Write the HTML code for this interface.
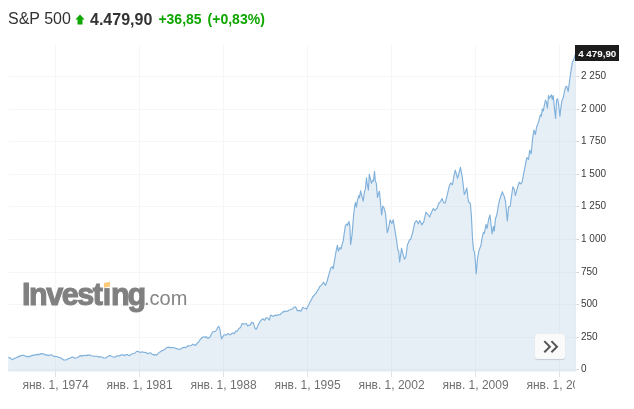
<!DOCTYPE html>
<html><head><meta charset="utf-8"><title>S&amp;P 500</title>
<style>
html,body{margin:0;padding:0;background:#fff;width:634px;height:409px;overflow:hidden;position:relative;font-family:"Liberation Sans",Arial,sans-serif}
.hdr{position:absolute;left:8px;top:6px;height:24px;white-space:nowrap;line-height:24px}
.hdr span{position:absolute;top:0;white-space:nowrap}
.nm{left:0;top:0.8px !important;font-size:16px;color:#333}
.pr{left:82px;top:2px !important;font-size:16px;font-weight:bold;color:#333}
.ch{left:150.4px;top:1px !important;font-size:14px;font-weight:bold;color:#0ea600}
.pc{left:199.6px;top:1px !important;font-size:14px;font-weight:bold;color:#0ea600}
svg{position:absolute;left:0;top:0}
.yl{position:absolute;left:581px;height:12px;line-height:12px;font-size:10px;color:#3a3a3a;white-space:nowrap}
.xclip{position:absolute;left:0;top:375.3px;width:575.3px;height:20px;overflow:hidden}
.xl{position:absolute;top:0;width:100px;text-align:center;font-size:12px;line-height:20px;color:#707070;white-space:nowrap}
.tag{position:absolute;left:575px;top:45px;width:44px;height:16px;background:#1c1c1c;color:#fff;font-size:9.8px;font-weight:bold;line-height:17px;padding-left:0.5px;box-sizing:border-box;text-align:center;white-space:nowrap}
.logo{position:absolute;left:22px;top:277.3px;white-space:nowrap;color:#808080}
.logo b{font-size:30.5px;font-weight:bold;letter-spacing:-1.45px;-webkit-text-stroke:1.1px #808080}
.logo i{font-style:normal;font-size:20px;margin-left:-0.6px;color:#858585}
.btn{position:absolute;left:535px;top:334px;width:30px;height:25px;border-radius:3px;background:#fafafa;box-shadow:0 1px 1px rgba(0,0,0,0.15)}
</style></head><body>
<div class="hdr"><span class="nm">S&amp;P 500</span>
<svg style="position:absolute;left:66.9px;top:8px" width="10" height="11" viewBox="0 0 10 11"><path d="M5,0.4 L9.6,5.6 L7.5,5.6 L7.5,10.5 L2.5,10.5 L2.5,5.6 L0.4,5.6 Z" fill="#0ea600"/></svg>
<span class="pr">4.479,90</span><span class="ch">+36,85</span><span class="pc">(+0,83%)</span></div>
<svg width="634" height="409" viewBox="0 0 634 409">
<defs><clipPath id="fc"><path d="M8,371.5 L8.3,357.3 L9.6,357.9 L10.8,358.4 L12.1,359.6 L13.2,359.3 L14.3,358.2 L15.4,358.2 L16.5,357.6 L17.6,356.8 L18.7,356.8 L19.8,355.8 L20.9,355.8 L22,355.4 L23.1,355.2 L24.2,355.5 L25.4,356.1 L26.5,356.8 L27.6,356.3 L28.7,357 L29.9,356.1 L31.2,355.9 L32.4,355.1 L33.5,355.5 L34.6,354.9 L35.7,354.6 L36.8,355.1 L38,353.9 L39.1,354.7 L40.2,353.9 L41.3,353.6 L42.4,353.9 L43.4,353.8 L44.5,354.2 L45.5,355.1 L46.6,354.7 L47.6,355.3 L48.6,355.3 L49.7,355.3 L50.8,354.9 L51.8,355 L53,355.9 L54.2,356.6 L55.3,356.3 L56.5,356.5 L57.6,356.8 L58.8,357.5 L59.9,357.5 L61.2,358.3 L62.4,359 L63.7,360 L65,360 L66.2,359.9 L67.3,359.3 L68.4,358.5 L69.6,358.5 L70.7,357.8 L71.8,357 L72.9,357.1 L74,357.9 L75.1,358.2 L76.3,357.7 L77.5,357.5 L78.7,356.7 L79.9,355.9 L81.1,355.6 L82.2,356.3 L83.4,355.3 L84.5,355.5 L85.7,355.8 L86.8,355.1 L88,355.4 L89.1,354.9 L90.3,355.3 L91.4,355.7 L92.6,356 L93.7,356 L94.9,356.5 L96,356.3 L97.1,356.2 L98.2,356.8 L99.4,356.8 L100.5,356.9 L101.6,357 L102.6,357.3 L103.5,358 L104.5,358 L105.6,358 L106.8,357 L107.9,356.7 L109.1,355.6 L110.2,355.6 L111.3,356.3 L112.4,356.7 L113.5,357 L114.5,357.3 L115.6,356.9 L116.6,356 L117.7,355.9 L118.7,355.8 L119.7,355.8 L120.7,354.8 L121.6,355.1 L122.6,354.9 L123.5,355 L124.5,355.8 L125.4,355 L126.4,354.5 L127.3,354.6 L128.5,355.4 L129.7,355.6 L130.8,354.6 L131.8,354.1 L132.8,353.7 L133.9,353.2 L135.2,353 L136.4,351.5 L137.7,351.3 L138.6,351.7 L139.6,352.2 L140.5,352.1 L141.5,352.3 L142.4,351.7 L143.4,352.3 L144.3,352.5 L145.3,352.3 L146.4,352.8 L147.6,353.7 L148.8,353.2 L150,352.8 L151.1,353.2 L152.2,354.4 L153.3,354.6 L154.4,355.3 L155.5,354.6 L156.6,355.2 L157.9,353.7 L159.1,352.6 L160.4,351.8 L161.7,350.8 L162.9,350.4 L164.2,349.7 L165.4,348.7 L166.6,347.6 L167.7,347.4 L168.9,347.1 L170,347.7 L171.2,347.6 L172.3,347.6 L173.5,347.8 L174.7,347.7 L175.9,348.6 L177.1,348.6 L178,349.1 L179,349.2 L179.9,349.5 L181.1,348.7 L182.3,347.6 L183.4,347.8 L184.5,347.2 L185.6,347.7 L186.8,347.1 L188,345.6 L189.2,346 L190.3,345.7 L191.5,345.3 L192.7,344.1 L193.7,344.9 L194.6,344.8 L195.6,345.4 L196.5,344.2 L197.5,342.8 L198.4,342.2 L199.3,341.1 L200.3,339.3 L201.2,338.5 L202.2,337.5 L203.1,337 L204.1,336.8 L205.5,337.5 L206.4,336.6 L207.9,338.5 L209.1,337.4 L210.2,337 L211.1,334.7 L212.1,332.8 L213.1,331.7 L214,331.5 L215.4,331.5 L216.8,329.5 L217.7,327.4 L218.5,326.4 L219.7,328 L220.6,334.2 L221.6,338.9 L222.5,337.1 L223.5,335.7 L224.4,334.7 L225.4,334.7 L226.3,335.1 L227.5,333.9 L228.7,333.7 L229.6,334.6 L230.4,334.7 L231.4,334 L232.3,333 L233.3,333 L234.3,333.7 L235.7,331.1 L237.2,331.3 L238.2,329.5 L239.2,328.3 L240.6,327.4 L242.1,323.5 L243.1,323.7 L244.1,324.2 L245.2,323.7 L246.3,323.5 L247.7,325.9 L248.9,325.1 L250.2,325.2 L251.6,322.3 L252.4,322.9 L253.3,322.7 L254.8,327.9 L256.1,329.3 L257.1,327.6 L258.2,324.9 L259.4,322.7 L260.7,320.5 L261.9,319.6 L263.1,318.8 L264.6,320.3 L266,317.9 L267,317.8 L268,318.6 L269.5,320 L270.4,315.4 L271.4,315.3 L272.4,315.9 L273.4,316.4 L274.4,315.5 L275.3,315.1 L276.8,315.6 L278.3,314.5 L279.2,315 L280.2,314.7 L281.2,313.3 L282.2,312.7 L283.1,311.6 L284.1,312 L285,310.9 L286.2,311.2 L287.4,311.4 L288.8,310.2 L290.1,309.8 L291.5,309.3 L292.8,308.7 L294.1,307.2 L295.5,306.8 L296.4,308.6 L297.2,310.4 L298.4,310.9 L299.5,310.4 L300.9,311.1 L301.8,309.6 L302.6,307.4 L303.8,308 L304.9,308.2 L305.8,308.4 L306.6,309.1 L307.8,306.6 L308.9,304.4 L309.9,302 L310.9,300.6 L312,298.4 L313,296.3 L314.1,295.5 L315.2,293.9 L316.3,293 L317.4,290.6 L318.6,289.1 L319.7,286.6 L320.7,286 L321.7,284.8 L322.7,283.6 L323.7,282.2 L324.6,284.1 L325.5,285.3 L326.4,283 L327.4,280.2 L328.5,275.9 L329.6,272.2 L330.7,268.1 L332.2,266.6 L333.2,268.8 L334.1,262.8 L335.1,257.1 L336.2,250.7 L337.4,245.3 L338.4,251.2 L340,247.5 L341,249 L342.1,244.4 L343.2,240.9 L344.3,232.9 L345.4,225.4 L346.9,224 L347.6,225.4 L348.8,221.5 L349.9,226.2 L350.6,244.6 L352.1,234.3 L353.7,214 L354.7,206 L355.5,202.3 L356.4,207.2 L357.6,199.9 L358.8,195.6 L359.5,197.8 L360.6,190.7 L361.9,196.2 L363.2,201.1 L364.4,191.9 L365.3,189.5 L366.5,177.9 L367.1,183.4 L368.4,190.1 L369.3,174.2 L370.2,177.9 L371.4,183.4 L372.6,180.3 L373.5,180.9 L374.5,171.4 L375.3,180.9 L376.3,183.4 L377.5,197.4 L378.4,194.1 L379.4,191.3 L380.4,201.7 L381.6,215 L382.8,206 L384,207.8 L385.5,213.3 L386.4,223.2 L387.3,232.6 L388.6,228 L390.1,219.8 L391,222.1 L391.9,223.4 L393.2,219.8 L394.7,229 L395.6,234.4 L396.5,240 L397.8,250 L398.7,251 L399.6,262 L400.6,255.6 L401.5,248.2 L402.9,253.7 L404.4,259.2 L405.7,257.4 L406.6,251.5 L407.5,244.5 L408.4,242.8 L409.4,240 L410.8,239 L411.8,235.7 L412.7,232.6 L413.8,227.2 L414.9,222.5 L415.8,221.3 L416.7,220.7 L418.3,223.8 L419.9,220.4 L420.9,222.4 L421.8,225 L422.7,223.3 L423.6,222.3 L424.8,217.4 L426,212.2 L426.9,213.5 L427.8,214 L428.8,215.8 L429.7,216.8 L430.6,214.5 L431.5,212.2 L432.4,210.5 L433.3,208.5 L434.2,209.8 L435.1,210.4 L436.1,209 L437,208.5 L437.9,205.9 L438.8,203 L439.7,202.6 L440.6,201.2 L442.1,198.5 L443,201.1 L443.8,203 L445.2,203 L446.1,199.6 L447.1,195.7 L448,191.6 L448.9,187.5 L449.8,184.8 L450.7,182.9 L451.6,184.1 L452.5,184.7 L453.8,176.5 L455.3,170.1 L456.4,174 L457.5,178.3 L458.5,175 L459.4,171.5 L460.4,167.3 L461.4,172.2 L462.3,177.4 L463.3,185.8 L464.3,194.5 L465.6,191.7 L466.8,188 L467.6,195.2 L468.5,202 L469.4,202.3 L470.3,203.3 L471.4,215.8 L472.4,236.7 L473.5,250.2 L474.5,251.7 L475.4,262.3 L476.2,273.8 L477.6,257.5 L479.1,250.2 L480,247.7 L480.8,246 L481.8,239.8 L483.3,232.5 L484.3,233.5 L485.3,228.3 L486,224.4 L487.1,228.5 L488.7,219 L490,215 L491,224.4 L492.1,233.8 L493.4,226.4 L494.3,231.1 L495.4,219 L496.8,215 L498.1,206.9 L499.5,200.2 L500.8,196.2 L502.4,191.8 L503.3,194.4 L504.2,196.2 L505.5,201.5 L506.5,212.3 L507.3,221 L508.6,206.9 L510.2,206.2 L511.6,195.5 L512.9,186.7 L514.3,189.4 L515.3,195.5 L516.4,191.9 L517.5,187.7 L518.4,184.6 L519.3,182.2 L520.8,184 L522.1,182.2 L523,177.5 L523.9,172.1 L524.8,168.1 L525.7,163 L527,157.5 L528.5,159.3 L529.7,150.2 L531.2,153.8 L532.5,139.2 L534,130.1 L535.4,134.5 L536.7,126.4 L537.7,124.4 L539,120.4 L540.4,114.7 L541.3,116.3 L542.4,108.9 L543.3,111 L544.4,104.9 L545.5,100.2 L546.4,102.2 L547.4,108.3 L548.5,95.5 L549.4,98.2 L550.5,96.2 L551.4,94.8 L552.2,99.5 L553.2,95.5 L554.5,108.9 L555.6,118.4 L556.5,100.2 L557.6,98.8 L558.6,104.2 L559.9,116.3 L561,106.9 L561.9,100.9 L563.3,97.5 L564.6,90.8 L565.6,87 L566.8,86.3 L568.2,91.5 L569.7,79.7 L571.2,69.4 L572.4,62.1 L573.4,60.6 L574.6,56.9 L575.1,54.7 L575.8,54.7 L575.8,371.5 Z"/></clipPath></defs>
<g stroke="#f6f6f6" stroke-width="1"><line x1="9" y1="76.5" x2="575.8" y2="76.5"/><line x1="9" y1="109.5" x2="575.8" y2="109.5"/><line x1="9" y1="141.5" x2="575.8" y2="141.5"/><line x1="9" y1="174.5" x2="575.8" y2="174.5"/><line x1="9" y1="206.5" x2="575.8" y2="206.5"/><line x1="9" y1="239.5" x2="575.8" y2="239.5"/><line x1="9" y1="272.5" x2="575.8" y2="272.5"/><line x1="9" y1="304.5" x2="575.8" y2="304.5"/><line x1="9" y1="337.5" x2="575.8" y2="337.5"/><line x1="9" y1="369.5" x2="575.8" y2="369.5"/><line x1="55.5" y1="45" x2="55.5" y2="371.5"/><line x1="139.5" y1="45" x2="139.5" y2="371.5"/><line x1="223.5" y1="45" x2="223.5" y2="371.5"/><line x1="307.5" y1="45" x2="307.5" y2="371.5"/><line x1="391.5" y1="45" x2="391.5" y2="371.5"/><line x1="475.5" y1="45" x2="475.5" y2="371.5"/><line x1="559.5" y1="45" x2="559.5" y2="371.5"/></g>
<path d="M8,371.5 L8.3,357.3 L9.6,357.9 L10.8,358.4 L12.1,359.6 L13.2,359.3 L14.3,358.2 L15.4,358.2 L16.5,357.6 L17.6,356.8 L18.7,356.8 L19.8,355.8 L20.9,355.8 L22,355.4 L23.1,355.2 L24.2,355.5 L25.4,356.1 L26.5,356.8 L27.6,356.3 L28.7,357 L29.9,356.1 L31.2,355.9 L32.4,355.1 L33.5,355.5 L34.6,354.9 L35.7,354.6 L36.8,355.1 L38,353.9 L39.1,354.7 L40.2,353.9 L41.3,353.6 L42.4,353.9 L43.4,353.8 L44.5,354.2 L45.5,355.1 L46.6,354.7 L47.6,355.3 L48.6,355.3 L49.7,355.3 L50.8,354.9 L51.8,355 L53,355.9 L54.2,356.6 L55.3,356.3 L56.5,356.5 L57.6,356.8 L58.8,357.5 L59.9,357.5 L61.2,358.3 L62.4,359 L63.7,360 L65,360 L66.2,359.9 L67.3,359.3 L68.4,358.5 L69.6,358.5 L70.7,357.8 L71.8,357 L72.9,357.1 L74,357.9 L75.1,358.2 L76.3,357.7 L77.5,357.5 L78.7,356.7 L79.9,355.9 L81.1,355.6 L82.2,356.3 L83.4,355.3 L84.5,355.5 L85.7,355.8 L86.8,355.1 L88,355.4 L89.1,354.9 L90.3,355.3 L91.4,355.7 L92.6,356 L93.7,356 L94.9,356.5 L96,356.3 L97.1,356.2 L98.2,356.8 L99.4,356.8 L100.5,356.9 L101.6,357 L102.6,357.3 L103.5,358 L104.5,358 L105.6,358 L106.8,357 L107.9,356.7 L109.1,355.6 L110.2,355.6 L111.3,356.3 L112.4,356.7 L113.5,357 L114.5,357.3 L115.6,356.9 L116.6,356 L117.7,355.9 L118.7,355.8 L119.7,355.8 L120.7,354.8 L121.6,355.1 L122.6,354.9 L123.5,355 L124.5,355.8 L125.4,355 L126.4,354.5 L127.3,354.6 L128.5,355.4 L129.7,355.6 L130.8,354.6 L131.8,354.1 L132.8,353.7 L133.9,353.2 L135.2,353 L136.4,351.5 L137.7,351.3 L138.6,351.7 L139.6,352.2 L140.5,352.1 L141.5,352.3 L142.4,351.7 L143.4,352.3 L144.3,352.5 L145.3,352.3 L146.4,352.8 L147.6,353.7 L148.8,353.2 L150,352.8 L151.1,353.2 L152.2,354.4 L153.3,354.6 L154.4,355.3 L155.5,354.6 L156.6,355.2 L157.9,353.7 L159.1,352.6 L160.4,351.8 L161.7,350.8 L162.9,350.4 L164.2,349.7 L165.4,348.7 L166.6,347.6 L167.7,347.4 L168.9,347.1 L170,347.7 L171.2,347.6 L172.3,347.6 L173.5,347.8 L174.7,347.7 L175.9,348.6 L177.1,348.6 L178,349.1 L179,349.2 L179.9,349.5 L181.1,348.7 L182.3,347.6 L183.4,347.8 L184.5,347.2 L185.6,347.7 L186.8,347.1 L188,345.6 L189.2,346 L190.3,345.7 L191.5,345.3 L192.7,344.1 L193.7,344.9 L194.6,344.8 L195.6,345.4 L196.5,344.2 L197.5,342.8 L198.4,342.2 L199.3,341.1 L200.3,339.3 L201.2,338.5 L202.2,337.5 L203.1,337 L204.1,336.8 L205.5,337.5 L206.4,336.6 L207.9,338.5 L209.1,337.4 L210.2,337 L211.1,334.7 L212.1,332.8 L213.1,331.7 L214,331.5 L215.4,331.5 L216.8,329.5 L217.7,327.4 L218.5,326.4 L219.7,328 L220.6,334.2 L221.6,338.9 L222.5,337.1 L223.5,335.7 L224.4,334.7 L225.4,334.7 L226.3,335.1 L227.5,333.9 L228.7,333.7 L229.6,334.6 L230.4,334.7 L231.4,334 L232.3,333 L233.3,333 L234.3,333.7 L235.7,331.1 L237.2,331.3 L238.2,329.5 L239.2,328.3 L240.6,327.4 L242.1,323.5 L243.1,323.7 L244.1,324.2 L245.2,323.7 L246.3,323.5 L247.7,325.9 L248.9,325.1 L250.2,325.2 L251.6,322.3 L252.4,322.9 L253.3,322.7 L254.8,327.9 L256.1,329.3 L257.1,327.6 L258.2,324.9 L259.4,322.7 L260.7,320.5 L261.9,319.6 L263.1,318.8 L264.6,320.3 L266,317.9 L267,317.8 L268,318.6 L269.5,320 L270.4,315.4 L271.4,315.3 L272.4,315.9 L273.4,316.4 L274.4,315.5 L275.3,315.1 L276.8,315.6 L278.3,314.5 L279.2,315 L280.2,314.7 L281.2,313.3 L282.2,312.7 L283.1,311.6 L284.1,312 L285,310.9 L286.2,311.2 L287.4,311.4 L288.8,310.2 L290.1,309.8 L291.5,309.3 L292.8,308.7 L294.1,307.2 L295.5,306.8 L296.4,308.6 L297.2,310.4 L298.4,310.9 L299.5,310.4 L300.9,311.1 L301.8,309.6 L302.6,307.4 L303.8,308 L304.9,308.2 L305.8,308.4 L306.6,309.1 L307.8,306.6 L308.9,304.4 L309.9,302 L310.9,300.6 L312,298.4 L313,296.3 L314.1,295.5 L315.2,293.9 L316.3,293 L317.4,290.6 L318.6,289.1 L319.7,286.6 L320.7,286 L321.7,284.8 L322.7,283.6 L323.7,282.2 L324.6,284.1 L325.5,285.3 L326.4,283 L327.4,280.2 L328.5,275.9 L329.6,272.2 L330.7,268.1 L332.2,266.6 L333.2,268.8 L334.1,262.8 L335.1,257.1 L336.2,250.7 L337.4,245.3 L338.4,251.2 L340,247.5 L341,249 L342.1,244.4 L343.2,240.9 L344.3,232.9 L345.4,225.4 L346.9,224 L347.6,225.4 L348.8,221.5 L349.9,226.2 L350.6,244.6 L352.1,234.3 L353.7,214 L354.7,206 L355.5,202.3 L356.4,207.2 L357.6,199.9 L358.8,195.6 L359.5,197.8 L360.6,190.7 L361.9,196.2 L363.2,201.1 L364.4,191.9 L365.3,189.5 L366.5,177.9 L367.1,183.4 L368.4,190.1 L369.3,174.2 L370.2,177.9 L371.4,183.4 L372.6,180.3 L373.5,180.9 L374.5,171.4 L375.3,180.9 L376.3,183.4 L377.5,197.4 L378.4,194.1 L379.4,191.3 L380.4,201.7 L381.6,215 L382.8,206 L384,207.8 L385.5,213.3 L386.4,223.2 L387.3,232.6 L388.6,228 L390.1,219.8 L391,222.1 L391.9,223.4 L393.2,219.8 L394.7,229 L395.6,234.4 L396.5,240 L397.8,250 L398.7,251 L399.6,262 L400.6,255.6 L401.5,248.2 L402.9,253.7 L404.4,259.2 L405.7,257.4 L406.6,251.5 L407.5,244.5 L408.4,242.8 L409.4,240 L410.8,239 L411.8,235.7 L412.7,232.6 L413.8,227.2 L414.9,222.5 L415.8,221.3 L416.7,220.7 L418.3,223.8 L419.9,220.4 L420.9,222.4 L421.8,225 L422.7,223.3 L423.6,222.3 L424.8,217.4 L426,212.2 L426.9,213.5 L427.8,214 L428.8,215.8 L429.7,216.8 L430.6,214.5 L431.5,212.2 L432.4,210.5 L433.3,208.5 L434.2,209.8 L435.1,210.4 L436.1,209 L437,208.5 L437.9,205.9 L438.8,203 L439.7,202.6 L440.6,201.2 L442.1,198.5 L443,201.1 L443.8,203 L445.2,203 L446.1,199.6 L447.1,195.7 L448,191.6 L448.9,187.5 L449.8,184.8 L450.7,182.9 L451.6,184.1 L452.5,184.7 L453.8,176.5 L455.3,170.1 L456.4,174 L457.5,178.3 L458.5,175 L459.4,171.5 L460.4,167.3 L461.4,172.2 L462.3,177.4 L463.3,185.8 L464.3,194.5 L465.6,191.7 L466.8,188 L467.6,195.2 L468.5,202 L469.4,202.3 L470.3,203.3 L471.4,215.8 L472.4,236.7 L473.5,250.2 L474.5,251.7 L475.4,262.3 L476.2,273.8 L477.6,257.5 L479.1,250.2 L480,247.7 L480.8,246 L481.8,239.8 L483.3,232.5 L484.3,233.5 L485.3,228.3 L486,224.4 L487.1,228.5 L488.7,219 L490,215 L491,224.4 L492.1,233.8 L493.4,226.4 L494.3,231.1 L495.4,219 L496.8,215 L498.1,206.9 L499.5,200.2 L500.8,196.2 L502.4,191.8 L503.3,194.4 L504.2,196.2 L505.5,201.5 L506.5,212.3 L507.3,221 L508.6,206.9 L510.2,206.2 L511.6,195.5 L512.9,186.7 L514.3,189.4 L515.3,195.5 L516.4,191.9 L517.5,187.7 L518.4,184.6 L519.3,182.2 L520.8,184 L522.1,182.2 L523,177.5 L523.9,172.1 L524.8,168.1 L525.7,163 L527,157.5 L528.5,159.3 L529.7,150.2 L531.2,153.8 L532.5,139.2 L534,130.1 L535.4,134.5 L536.7,126.4 L537.7,124.4 L539,120.4 L540.4,114.7 L541.3,116.3 L542.4,108.9 L543.3,111 L544.4,104.9 L545.5,100.2 L546.4,102.2 L547.4,108.3 L548.5,95.5 L549.4,98.2 L550.5,96.2 L551.4,94.8 L552.2,99.5 L553.2,95.5 L554.5,108.9 L555.6,118.4 L556.5,100.2 L557.6,98.8 L558.6,104.2 L559.9,116.3 L561,106.9 L561.9,100.9 L563.3,97.5 L564.6,90.8 L565.6,87 L566.8,86.3 L568.2,91.5 L569.7,79.7 L571.2,69.4 L572.4,62.1 L573.4,60.6 L574.6,56.9 L575.1,54.7 L575.8,54.7 L575.8,371.5 Z" fill="#e6eef6"/>
<g stroke="rgba(40,60,90,0.028)" stroke-width="1" clip-path="url(#fc)"><line x1="9" y1="76.5" x2="575.8" y2="76.5"/><line x1="9" y1="109.5" x2="575.8" y2="109.5"/><line x1="9" y1="141.5" x2="575.8" y2="141.5"/><line x1="9" y1="174.5" x2="575.8" y2="174.5"/><line x1="9" y1="206.5" x2="575.8" y2="206.5"/><line x1="9" y1="239.5" x2="575.8" y2="239.5"/><line x1="9" y1="272.5" x2="575.8" y2="272.5"/><line x1="9" y1="304.5" x2="575.8" y2="304.5"/><line x1="9" y1="337.5" x2="575.8" y2="337.5"/><line x1="9" y1="369.5" x2="575.8" y2="369.5"/><line x1="55.5" y1="45" x2="55.5" y2="371.5"/><line x1="139.5" y1="45" x2="139.5" y2="371.5"/><line x1="223.5" y1="45" x2="223.5" y2="371.5"/><line x1="307.5" y1="45" x2="307.5" y2="371.5"/><line x1="391.5" y1="45" x2="391.5" y2="371.5"/><line x1="475.5" y1="45" x2="475.5" y2="371.5"/><line x1="559.5" y1="45" x2="559.5" y2="371.5"/></g>
<g stroke="rgba(40,60,90,0.045)" stroke-width="1" clip-path="url(#fc)"><line x1="575.3" y1="40" x2="575.3" y2="372"/><line x1="8" y1="371.2" x2="576" y2="371.2"/></g>
<path d="M8.3,357.3 L9.6,357.9 L10.8,358.4 L12.1,359.6 L13.2,359.3 L14.3,358.2 L15.4,358.2 L16.5,357.6 L17.6,356.8 L18.7,356.8 L19.8,355.8 L20.9,355.8 L22,355.4 L23.1,355.2 L24.2,355.5 L25.4,356.1 L26.5,356.8 L27.6,356.3 L28.7,357 L29.9,356.1 L31.2,355.9 L32.4,355.1 L33.5,355.5 L34.6,354.9 L35.7,354.6 L36.8,355.1 L38,353.9 L39.1,354.7 L40.2,353.9 L41.3,353.6 L42.4,353.9 L43.4,353.8 L44.5,354.2 L45.5,355.1 L46.6,354.7 L47.6,355.3 L48.6,355.3 L49.7,355.3 L50.8,354.9 L51.8,355 L53,355.9 L54.2,356.6 L55.3,356.3 L56.5,356.5 L57.6,356.8 L58.8,357.5 L59.9,357.5 L61.2,358.3 L62.4,359 L63.7,360 L65,360 L66.2,359.9 L67.3,359.3 L68.4,358.5 L69.6,358.5 L70.7,357.8 L71.8,357 L72.9,357.1 L74,357.9 L75.1,358.2 L76.3,357.7 L77.5,357.5 L78.7,356.7 L79.9,355.9 L81.1,355.6 L82.2,356.3 L83.4,355.3 L84.5,355.5 L85.7,355.8 L86.8,355.1 L88,355.4 L89.1,354.9 L90.3,355.3 L91.4,355.7 L92.6,356 L93.7,356 L94.9,356.5 L96,356.3 L97.1,356.2 L98.2,356.8 L99.4,356.8 L100.5,356.9 L101.6,357 L102.6,357.3 L103.5,358 L104.5,358 L105.6,358 L106.8,357 L107.9,356.7 L109.1,355.6 L110.2,355.6 L111.3,356.3 L112.4,356.7 L113.5,357 L114.5,357.3 L115.6,356.9 L116.6,356 L117.7,355.9 L118.7,355.8 L119.7,355.8 L120.7,354.8 L121.6,355.1 L122.6,354.9 L123.5,355 L124.5,355.8 L125.4,355 L126.4,354.5 L127.3,354.6 L128.5,355.4 L129.7,355.6 L130.8,354.6 L131.8,354.1 L132.8,353.7 L133.9,353.2 L135.2,353 L136.4,351.5 L137.7,351.3 L138.6,351.7 L139.6,352.2 L140.5,352.1 L141.5,352.3 L142.4,351.7 L143.4,352.3 L144.3,352.5 L145.3,352.3 L146.4,352.8 L147.6,353.7 L148.8,353.2 L150,352.8 L151.1,353.2 L152.2,354.4 L153.3,354.6 L154.4,355.3 L155.5,354.6 L156.6,355.2 L157.9,353.7 L159.1,352.6 L160.4,351.8 L161.7,350.8 L162.9,350.4 L164.2,349.7 L165.4,348.7 L166.6,347.6 L167.7,347.4 L168.9,347.1 L170,347.7 L171.2,347.6 L172.3,347.6 L173.5,347.8 L174.7,347.7 L175.9,348.6 L177.1,348.6 L178,349.1 L179,349.2 L179.9,349.5 L181.1,348.7 L182.3,347.6 L183.4,347.8 L184.5,347.2 L185.6,347.7 L186.8,347.1 L188,345.6 L189.2,346 L190.3,345.7 L191.5,345.3 L192.7,344.1 L193.7,344.9 L194.6,344.8 L195.6,345.4 L196.5,344.2 L197.5,342.8 L198.4,342.2 L199.3,341.1 L200.3,339.3 L201.2,338.5 L202.2,337.5 L203.1,337 L204.1,336.8 L205.5,337.5 L206.4,336.6 L207.9,338.5 L209.1,337.4 L210.2,337 L211.1,334.7 L212.1,332.8 L213.1,331.7 L214,331.5 L215.4,331.5 L216.8,329.5 L217.7,327.4 L218.5,326.4 L219.7,328 L220.6,334.2 L221.6,338.9 L222.5,337.1 L223.5,335.7 L224.4,334.7 L225.4,334.7 L226.3,335.1 L227.5,333.9 L228.7,333.7 L229.6,334.6 L230.4,334.7 L231.4,334 L232.3,333 L233.3,333 L234.3,333.7 L235.7,331.1 L237.2,331.3 L238.2,329.5 L239.2,328.3 L240.6,327.4 L242.1,323.5 L243.1,323.7 L244.1,324.2 L245.2,323.7 L246.3,323.5 L247.7,325.9 L248.9,325.1 L250.2,325.2 L251.6,322.3 L252.4,322.9 L253.3,322.7 L254.8,327.9 L256.1,329.3 L257.1,327.6 L258.2,324.9 L259.4,322.7 L260.7,320.5 L261.9,319.6 L263.1,318.8 L264.6,320.3 L266,317.9 L267,317.8 L268,318.6 L269.5,320 L270.4,315.4 L271.4,315.3 L272.4,315.9 L273.4,316.4 L274.4,315.5 L275.3,315.1 L276.8,315.6 L278.3,314.5 L279.2,315 L280.2,314.7 L281.2,313.3 L282.2,312.7 L283.1,311.6 L284.1,312 L285,310.9 L286.2,311.2 L287.4,311.4 L288.8,310.2 L290.1,309.8 L291.5,309.3 L292.8,308.7 L294.1,307.2 L295.5,306.8 L296.4,308.6 L297.2,310.4 L298.4,310.9 L299.5,310.4 L300.9,311.1 L301.8,309.6 L302.6,307.4 L303.8,308 L304.9,308.2 L305.8,308.4 L306.6,309.1 L307.8,306.6 L308.9,304.4 L309.9,302 L310.9,300.6 L312,298.4 L313,296.3 L314.1,295.5 L315.2,293.9 L316.3,293 L317.4,290.6 L318.6,289.1 L319.7,286.6 L320.7,286 L321.7,284.8 L322.7,283.6 L323.7,282.2 L324.6,284.1 L325.5,285.3 L326.4,283 L327.4,280.2 L328.5,275.9 L329.6,272.2 L330.7,268.1 L332.2,266.6 L333.2,268.8 L334.1,262.8 L335.1,257.1 L336.2,250.7 L337.4,245.3 L338.4,251.2 L340,247.5 L341,249 L342.1,244.4 L343.2,240.9 L344.3,232.9 L345.4,225.4 L346.9,224 L347.6,225.4 L348.8,221.5 L349.9,226.2 L350.6,244.6 L352.1,234.3 L353.7,214 L354.7,206 L355.5,202.3 L356.4,207.2 L357.6,199.9 L358.8,195.6 L359.5,197.8 L360.6,190.7 L361.9,196.2 L363.2,201.1 L364.4,191.9 L365.3,189.5 L366.5,177.9 L367.1,183.4 L368.4,190.1 L369.3,174.2 L370.2,177.9 L371.4,183.4 L372.6,180.3 L373.5,180.9 L374.5,171.4 L375.3,180.9 L376.3,183.4 L377.5,197.4 L378.4,194.1 L379.4,191.3 L380.4,201.7 L381.6,215 L382.8,206 L384,207.8 L385.5,213.3 L386.4,223.2 L387.3,232.6 L388.6,228 L390.1,219.8 L391,222.1 L391.9,223.4 L393.2,219.8 L394.7,229 L395.6,234.4 L396.5,240 L397.8,250 L398.7,251 L399.6,262 L400.6,255.6 L401.5,248.2 L402.9,253.7 L404.4,259.2 L405.7,257.4 L406.6,251.5 L407.5,244.5 L408.4,242.8 L409.4,240 L410.8,239 L411.8,235.7 L412.7,232.6 L413.8,227.2 L414.9,222.5 L415.8,221.3 L416.7,220.7 L418.3,223.8 L419.9,220.4 L420.9,222.4 L421.8,225 L422.7,223.3 L423.6,222.3 L424.8,217.4 L426,212.2 L426.9,213.5 L427.8,214 L428.8,215.8 L429.7,216.8 L430.6,214.5 L431.5,212.2 L432.4,210.5 L433.3,208.5 L434.2,209.8 L435.1,210.4 L436.1,209 L437,208.5 L437.9,205.9 L438.8,203 L439.7,202.6 L440.6,201.2 L442.1,198.5 L443,201.1 L443.8,203 L445.2,203 L446.1,199.6 L447.1,195.7 L448,191.6 L448.9,187.5 L449.8,184.8 L450.7,182.9 L451.6,184.1 L452.5,184.7 L453.8,176.5 L455.3,170.1 L456.4,174 L457.5,178.3 L458.5,175 L459.4,171.5 L460.4,167.3 L461.4,172.2 L462.3,177.4 L463.3,185.8 L464.3,194.5 L465.6,191.7 L466.8,188 L467.6,195.2 L468.5,202 L469.4,202.3 L470.3,203.3 L471.4,215.8 L472.4,236.7 L473.5,250.2 L474.5,251.7 L475.4,262.3 L476.2,273.8 L477.6,257.5 L479.1,250.2 L480,247.7 L480.8,246 L481.8,239.8 L483.3,232.5 L484.3,233.5 L485.3,228.3 L486,224.4 L487.1,228.5 L488.7,219 L490,215 L491,224.4 L492.1,233.8 L493.4,226.4 L494.3,231.1 L495.4,219 L496.8,215 L498.1,206.9 L499.5,200.2 L500.8,196.2 L502.4,191.8 L503.3,194.4 L504.2,196.2 L505.5,201.5 L506.5,212.3 L507.3,221 L508.6,206.9 L510.2,206.2 L511.6,195.5 L512.9,186.7 L514.3,189.4 L515.3,195.5 L516.4,191.9 L517.5,187.7 L518.4,184.6 L519.3,182.2 L520.8,184 L522.1,182.2 L523,177.5 L523.9,172.1 L524.8,168.1 L525.7,163 L527,157.5 L528.5,159.3 L529.7,150.2 L531.2,153.8 L532.5,139.2 L534,130.1 L535.4,134.5 L536.7,126.4 L537.7,124.4 L539,120.4 L540.4,114.7 L541.3,116.3 L542.4,108.9 L543.3,111 L544.4,104.9 L545.5,100.2 L546.4,102.2 L547.4,108.3 L548.5,95.5 L549.4,98.2 L550.5,96.2 L551.4,94.8 L552.2,99.5 L553.2,95.5 L554.5,108.9 L555.6,118.4 L556.5,100.2 L557.6,98.8 L558.6,104.2 L559.9,116.3 L561,106.9 L561.9,100.9 L563.3,97.5 L564.6,90.8 L565.6,87 L566.8,86.3 L568.2,91.5 L569.7,79.7 L571.2,69.4 L572.4,62.1 L573.4,60.6 L574.6,56.9 L575.1,54.7" fill="none" stroke="#80b1db" stroke-width="1.15" stroke-linejoin="round"/>
<g stroke="#dde3ea" stroke-width="1"><line x1="55.5" y1="371.5" x2="55.5" y2="377"/><line x1="139.5" y1="371.5" x2="139.5" y2="377"/><line x1="223.5" y1="371.5" x2="223.5" y2="377"/><line x1="307.5" y1="371.5" x2="307.5" y2="377"/><line x1="391.5" y1="371.5" x2="391.5" y2="377"/><line x1="475.5" y1="371.5" x2="475.5" y2="377"/><line x1="559.5" y1="371.5" x2="559.5" y2="377"/></g>
<g stroke="#c8d0da" stroke-width="1"><line x1="576.5" y1="76.5" x2="579" y2="76.5"/><line x1="576.5" y1="109.5" x2="579" y2="109.5"/><line x1="576.5" y1="141.5" x2="579" y2="141.5"/><line x1="576.5" y1="174.5" x2="579" y2="174.5"/><line x1="576.5" y1="206.5" x2="579" y2="206.5"/><line x1="576.5" y1="239.5" x2="579" y2="239.5"/><line x1="576.5" y1="272.5" x2="579" y2="272.5"/><line x1="576.5" y1="304.5" x2="579" y2="304.5"/><line x1="576.5" y1="337.5" x2="579" y2="337.5"/><line x1="576.5" y1="369.5" x2="579" y2="369.5"/></g>
</svg>
<div class="yl" style="top:69.9px">2 250</div><div class="yl" style="top:102.9px">2 000</div><div class="yl" style="top:134.9px">1 750</div><div class="yl" style="top:167.9px">1 500</div><div class="yl" style="top:199.9px">1 250</div><div class="yl" style="top:232.9px">1 000</div><div class="yl" style="top:265.9px">750</div><div class="yl" style="top:297.9px">500</div><div class="yl" style="top:330.9px">250</div><div class="yl" style="top:362.9px">0</div>
<div class="xclip"><div class="xl" style="left:5.5px">янв. 1, 1974</div><div class="xl" style="left:89.5px">янв. 1, 1981</div><div class="xl" style="left:173.5px">янв. 1, 1988</div><div class="xl" style="left:257.5px">янв. 1, 1995</div><div class="xl" style="left:341.5px">янв. 1, 2002</div><div class="xl" style="left:425.5px">янв. 1, 2009</div><div class="xl" style="left:509.5px">янв. 1, 2016</div></div>
<div class="tag">4 479,90</div>
<div class="logo"><b>Inves<span style="letter-spacing:-0.2px">ti</span><span style="letter-spacing:-2.2px">n</span>g</b><i>.com</i></div><svg style="position:absolute;left:0;top:0" width="120" height="300"><rect x="102.8" y="279.5" width="8.4" height="8.6" fill="#fff"/><path d="M104,283.1 L110,281.8 L110,286.6 L104,287.8 Z" fill="#fdca7a"/></svg>
<div class="btn"><svg width="30" height="25" viewBox="0 0 30 25"><path d="M9.3,7.1 L14.9,12.7 L9.3,18.3 M16.4,7.1 L22,12.7 L16.4,18.3" fill="none" stroke="#555" stroke-width="2"/></svg></div>
</body></html>
